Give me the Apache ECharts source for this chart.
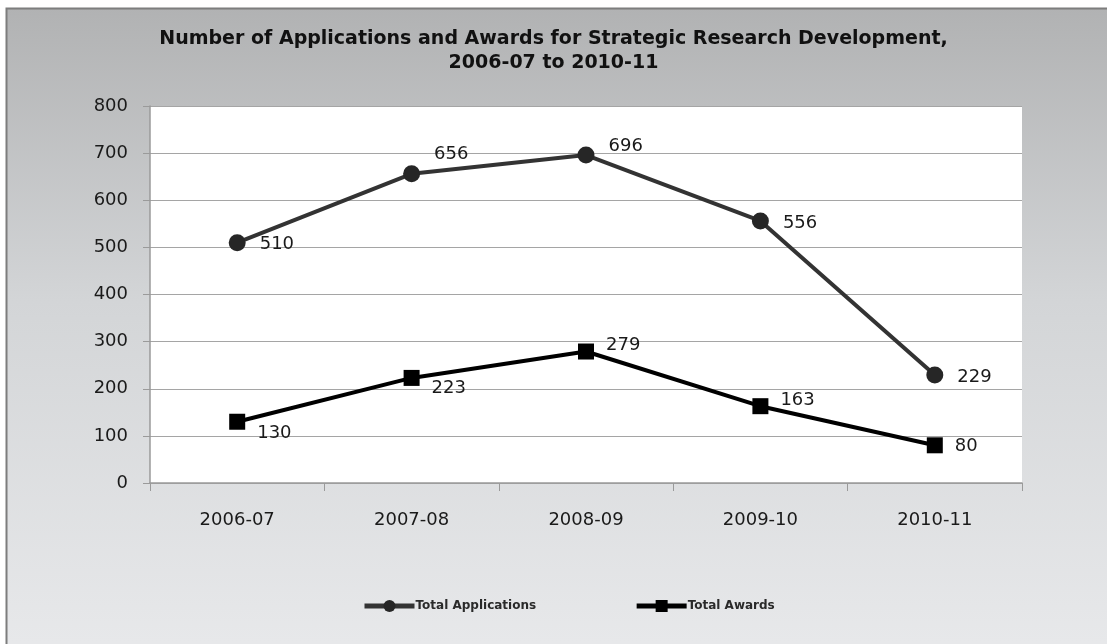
<!DOCTYPE html>
<html>
<head>
<meta charset="utf-8">
<script src="https://cdn.jsdelivr.net/npm/echarts@6/dist/echarts.min.js"></script>
<style>html,body{margin:0;padding:0;background:#fff;}#c{width:1107px;height:644px;}</style>
</head>
<body>
<div id="c"></div>
<script>
var categories = ['2006-07', '2007-08', '2008-09', '2009-10', '2010-11'];
var applications = [510, 656, 696, 556, 229];
var awards = [130, 223, 279, 163, 80];
var yTicks = [0, 100, 200, 300, 400, 500, 600, 700, 800];

// label offsets (layout only)
var appOffsets = [[0, 2], [0, -20], [0, -9], [0, 2], [0, 2]];
var awdOffsets = [[0, 12], [0, 10], [0, -6], [0, -6], [0, 1]];

var chart = echarts.init(document.getElementById('c'));
var labelFont = {fontFamily: 'DejaVu Sans', fontSize: 17, color: '#1a1a1a'};

function mkData(vals, offs) {
  return vals.map(function (v, i) {
    return {value: v, label: {offset: offs[i]}};
  });
}

chart.setOption({
  animation: false,
  backgroundColor: '#ffffff',
  graphic: [{
    type: 'rect', z: -10, silent: true,
    shape: {x: 6.5, y: 8.5, width: 1110, height: 650},
    style: {
      fill: new echarts.graphic.LinearGradient(0, 0, 0, 1, [
        {offset: 0, color: '#b1b2b3'},
        {offset: 0.45, color: '#d3d5d7'},
        {offset: 1, color: '#e8e9eb'}
      ]),
      stroke: '#7d7d7d', lineWidth: 2
    }
  }],
  title: {
    text: 'Number of Applications and Awards for Strategic Research Development,\n2006-07 to 2010-11',
    left: 'center', top: 22,
    textStyle: {fontFamily: 'DejaVu Sans', fontWeight: 'bold', fontSize: 19, lineHeight: 24, color: '#111'}
  },
  legend: {
    top: 595, left: 357, itemGap: 98, itemWidth: 50, itemHeight: 15,
    lineStyle: {width: 5},
    textStyle: {fontFamily: 'DejaVu Sans', fontSize: 12, fontWeight: 'bold', color: '#2a2a2a', padding: [0, 0, 0, -4]},
    data: ['Total Applications', 'Total Awards']
  },
  grid: {left: 150, right: 85, top: 106, bottom: 161, backgroundColor: '#ffffff', show: true, borderWidth: 0},
  xAxis: {
    type: 'category', data: categories, boundaryGap: true,
    axisLine: {lineStyle: {color: '#9a9a9a', width: 1.5}},
    axisTick: {show: true, length: 8, lineStyle: {color: '#9a9a9a'}},
    axisLabel: Object.assign({margin: 28}, labelFont, {fontSize: 18})
  },
  yAxis: {
    type: 'value', min: yTicks[0], max: yTicks[yTicks.length - 1], interval: 100,
    axisLine: {show: true, lineStyle: {color: '#9a9a9a', width: 1.5}},
    axisTick: {show: true, length: 7, lineStyle: {color: '#9a9a9a'}},
    splitLine: {lineStyle: {color: '#a5a5a5', width: 1}},
    axisLabel: Object.assign({margin: 22}, labelFont, {fontSize: 18})
  },
  series: [{
    name: 'Total Applications', type: 'line',
    data: mkData(applications, appOffsets),
    symbol: 'circle', symbolSize: 17,
    lineStyle: {color: '#333333', width: 4},
    itemStyle: {color: '#262626'},
    label: Object.assign({show: true, position: 'right', distance: 14}, labelFont, {fontSize: 18})
  }, {
    name: 'Total Awards', type: 'line',
    data: mkData(awards, awdOffsets),
    symbol: 'rect', symbolSize: 16,
    lineStyle: {color: '#000000', width: 4},
    itemStyle: {color: '#000000'},
    label: Object.assign({show: true, position: 'right', distance: 12}, labelFont, {fontSize: 18})
  }]
});
</script>
</body>
</html>
